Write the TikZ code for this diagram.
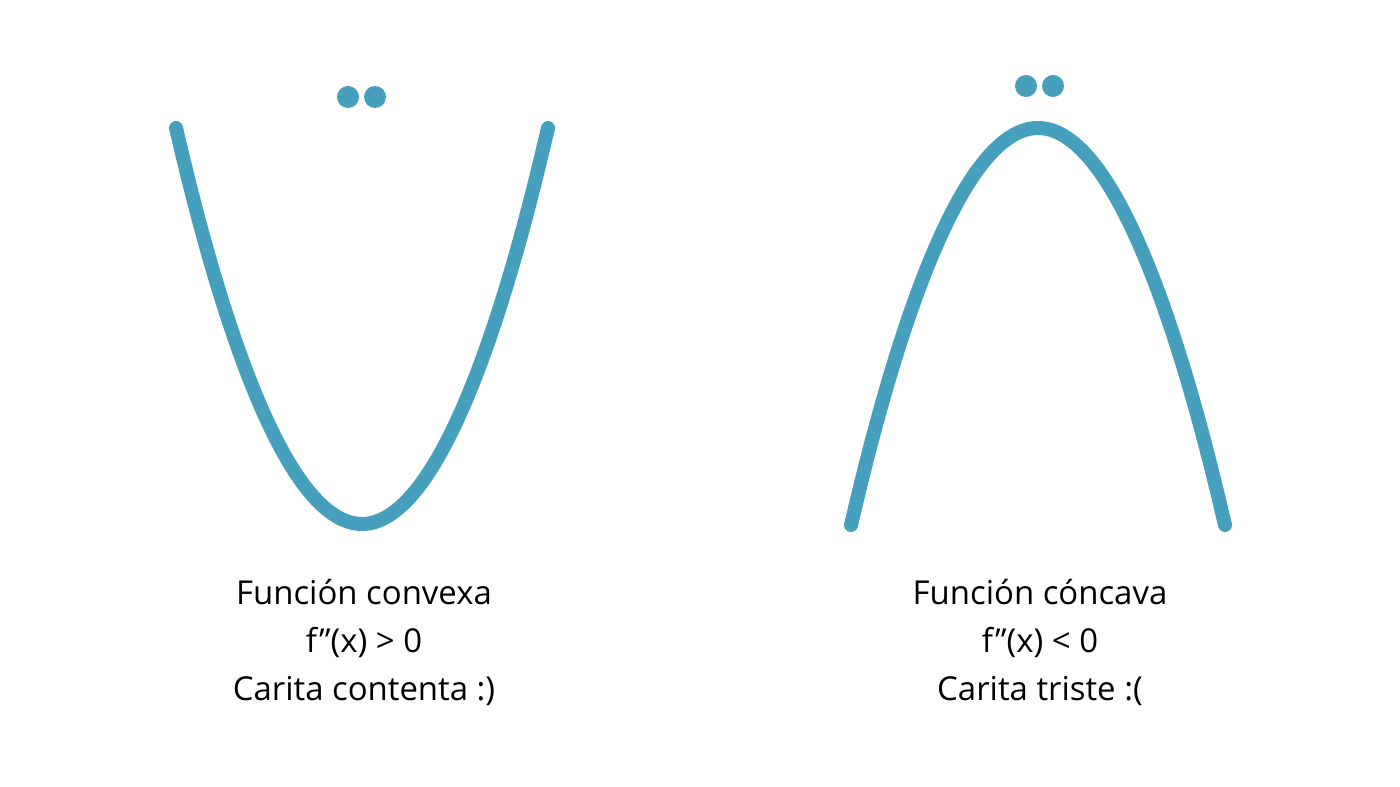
\documentclass[tikz,border=0pt]{standalone}
\usepackage{fontspec}
\setmainfont{Open Sans}
\definecolor{Curve}{RGB}{70,159,188}

\begin{document}
\begin{tikzpicture}[x=0.75pt,y=0.75pt,line cap=round,line join=round]
\tikzset{
  curve/.style={draw=Curve,line width=10.5pt},
  eye/.style={circle,fill=Curve,minimum size=16.5pt,inner sep=0pt},
  caption/.style={align=center,font=\fontsize{24.7}{36}\selectfont}
}
\path[use as bounding box] (0,0) rectangle (1400,787);
% convex
\draw[curve] (176,659) parabola bend (362,263) (548,659);
\node[eye] (cvxL) at (348,690) {};
\node[eye] (cvxR) at (375,690) {};
\node[caption] (cvxtxt) at (364,145) {Función convexa\\f”(x) > 0\\Carita contenta :)};
% concave
\draw[curve] (851,262) parabola bend (1038,659) (1225,262);
\node[eye] (ccvL) at (1026,701) {};
\node[eye] (ccvR) at (1053,701) {};
\node[caption] (ccvtxt) at (1040,145) {Función cóncava\\f”(x) < 0\\Carita triste :(};
\end{tikzpicture}
\end{document}
